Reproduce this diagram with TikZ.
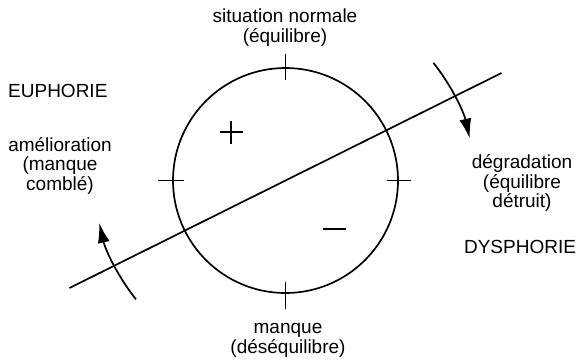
\documentclass[tikz,border=0pt]{standalone}
\usepackage{fontspec}
\setmainfont{Liberation Sans}
\usetikzlibrary{arrows.meta,calc}
\begin{document}
\begin{tikzpicture}[x=1pt,y=-1pt,
  lbl/.style={font=\fontsize{19}{19.5}\selectfont, inner sep=0pt, align=center, anchor=base},
  stroke/.style={line width=1.7pt, line cap=butt},
  curvearrow/.style={stroke, -{Latex[length=20pt,width=12pt]}}]
\useasboundingbox (0,0) rectangle (579,362);
% circle
\node (C) [circle, draw, stroke, minimum size=225pt, inner sep=0pt] at (285.5,180.5) {};
% ticks
\draw[stroke] (C.north) ++(0,-13) -- ++(0,26);
\draw[stroke] (C.south) ++(0,-12) -- ++(0,27);
\draw[stroke] (C.west) ++(-14,0) -- ++(26,0);
\draw[stroke] (C.east) ++(-12,0) -- ++(24,0);
% diameter line
\coordinate (L) at (69.5,288);
\coordinate (R) at (501.5,73);
\draw[stroke] (L) -- (R);
% arrows
\draw[curvearrow] ($(C.center)+(-38.5:189)$) arc[start angle=-38.5, end angle=-12.8, radius=189];
\draw[curvearrow] ($(C.center)+(141.5:191)$) arc[start angle=141.5, end angle=167.2, radius=191];
% plus and minus
\coordinate (P) at (231,132);
\coordinate (M) at (334,229);
\draw[stroke] (P) +(-11.5,0) -- +(11.5,0);
\draw[stroke] (P) +(0,-11.5) -- +(0,11.5);
\draw[stroke] (M) +(-11.5,0) -- +(11.5,0);
% labels (base anchor = baseline of the last line)
\node[lbl] (top) at (285,42) {situation normale\\(équilibre)};
\node[lbl, anchor=base west] (eu) at (8,97) {EUPHORIE};
\node[lbl] (am) at (60,190) {amélioration\\(manque\\comblé)};
\node[lbl] (deg) at (522,207.5) {dégradation\\(équilibre\\détruit)};
\node[lbl] (dys) at (520,253) {DYSPHORIE};
\node[lbl] (man) at (288,353) {manque\\(déséquilibre)};
\end{tikzpicture}
\end{document}
